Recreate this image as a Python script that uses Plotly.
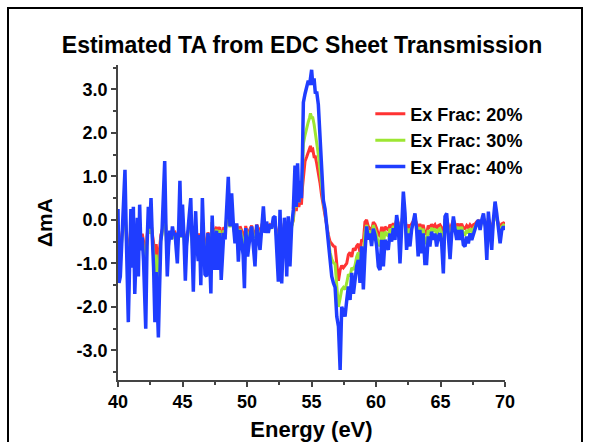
import plotly.graph_objects as go

energy = [40.00,40.08,40.18,40.30,40.42,40.54,40.66,40.80,40.92,41.00,41.10,41.19,41.30,41.40,41.50,41.58,41.68,41.78,41.88,41.98,
          42.08,42.15,42.25,42.35,42.45,42.56,42.66,42.76,42.86,42.96,43.05,43.13,43.22,43.32,43.42,43.52,43.62,43.72,43.82,43.92,
          44.02,44.12,44.22,44.32,44.42,44.52,44.60,44.70,44.80,44.90,45.00,45.10,45.22,45.32,45.42,45.52,45.64,45.74,45.84,45.94,
          46.02,46.12,46.22,46.32,46.42,46.54,46.64,46.74,46.87,46.97,47.07,
          47.20,47.30,47.46,47.56,47.64,47.72,47.82,47.90,48.00,48.10,48.20,48.30,48.42,48.55,48.68,48.81,48.94,49.07,49.20,49.33,
          49.46,49.58,49.70,49.80,49.90,50.05,50.15,50.23,50.36,50.49,50.62,50.75,50.88,51.01,51.14,51.27,51.40,51.52,51.65,51.78,
          51.91,52.04,52.17,52.30,52.43,52.56,52.69,52.80,52.90,53.00,53.08,53.20,53.33,53.46,53.59,
          53.72,53.82,53.92,54.02,54.12,54.22,54.30,54.37,54.50,54.63,54.75,54.85,54.92,55.01,55.10,55.20,55.30,55.40,55.53,55.66,
          55.79,55.92,56.05,56.18,56.31,56.44,56.57,56.70,56.83,56.96,57.09,57.22,57.34,57.47,57.60,57.73,57.86,57.99,58.12,58.25,
          58.37,58.50,58.63,58.76,58.89,59.02,59.14,59.27,59.40,59.53,59.66,59.79,59.92,
          60.05,60.18,60.31,60.44,60.57,60.70,60.82,60.95,61.08,61.21,61.34,61.47,61.60,61.73,61.86,61.99,62.12,62.25,62.37,62.50,
          62.63,62.76,62.89,63.02,63.15,63.27,63.40,63.53,63.66,63.79,63.92,64.05,64.18,64.31,64.44,64.57,64.70,64.83,64.96,65.09,
          65.22,65.35,65.48,65.61,65.74,65.87,66.00,66.13,66.26,66.39,66.51,66.64,66.77,66.90,67.03,67.16,67.29,67.42,67.55,67.68,
          67.81,67.94,68.07,68.20,68.33,68.46,68.59,68.71,68.84,68.97,69.10,69.23,69.36,69.49,69.62,69.75,69.88,70.00]

frac40 = [0.25,-1.45,-1.30,-0.40,0.40,1.15,-0.60,-2.35,-0.80,0.25,-1.10,0.30,-1.70,-0.90,0.05,-1.30,0.35,-0.70,-0.40,-0.95,
          -1.80,-2.50,-0.60,0.30,-0.20,0.50,-0.40,-1.10,-2.35,-1.20,-2.00,-2.70,-1.60,-0.50,-0.20,0.60,1.35,-0.20,-1.30,-0.60,
          -0.25,-0.45,-0.15,-0.35,-0.30,-0.70,-1.00,-0.20,0.90,-0.40,0.35,-0.30,-1.40,-0.60,-0.15,0.10,0.50,-0.40,-1.65,-0.40,
          0.20,-0.60,-0.95,-0.35,-1.50,0.50,-0.20,-1.25,-1.30,-0.30,-0.60,
          -1.69,0.10,-1.15,-0.50,-0.25,-1.15,-0.40,-0.30,-1.38,-0.85,-0.30,-0.45,0.23,0.99,-0.15,0.61,-0.10,-0.54,-0.08,-0.96,
          -0.23,-0.54,-0.80,-1.57,-0.19,-0.84,-0.55,-0.38,-0.15,-0.69,-1.07,-0.11,-0.38,-0.69,-0.20,0.31,-0.30,-0.04,-0.30,-0.10,
          -0.20,0.05,0.08,-0.84,-1.42,0.23,-1.46,-0.60,0.05,-0.50,-1.30,0.08,-1.07,-0.15,0.23,
          1.25,0.30,1.30,0.40,0.90,0.50,1.50,2.70,2.90,3.05,3.20,3.10,3.35,3.45,3.10,3.25,2.90,2.95,2.65,1.90,
          1.00,0.45,0.25,-0.15,-0.69,-1.07,-1.30,-1.45,-1.55,-2.22,-2.45,-3.45,-2.00,-2.10,-2.22,-1.85,-1.53,-1.84,-1.22,-1.70,
          -1.30,-1.07,-0.92,-1.45,-0.61,-1.60,-0.80,-0.15,-0.45,-0.31,-0.60,-0.20,-0.35,
          -0.60,-1.07,-1.15,-0.46,-1.07,-0.46,-0.61,-0.69,-0.31,-0.50,-0.19,-0.46,0.11,-0.15,-1.00,-0.15,0.65,0.15,-0.69,-0.31,
          -0.61,-0.23,-0.08,0.15,-0.23,-0.84,-0.23,-0.77,-0.31,-1.00,-1.00,-0.38,-0.61,-0.27,-0.46,-0.31,-0.61,-0.38,-0.31,-0.54,
          -1.23,0.08,0.15,-0.38,-0.90,-0.31,0.08,-0.23,-0.46,-0.23,-0.46,-0.23,-0.57,-0.61,-0.38,-0.54,-0.31,-0.46,-0.31,-0.23,
          -0.08,0.00,-0.23,0.00,0.15,-0.15,-0.92,0.19,-0.23,-0.69,0.00,0.42,0.15,-0.23,-0.54,-0.23,-0.15,-0.23]

frac20 = [-0.13,-0.64,-0.59,-0.32,-0.08,0.15,-0.38,-0.91,-0.44,-0.13,-0.53,-0.11,-0.71,-0.47,-0.19,-0.59,-0.10,-0.41,-0.32,-0.49,
          -0.74,-0.95,-0.38,-0.11,-0.26,-0.05,-0.32,-0.53,-0.91,-0.56,-0.80,-1.01,-0.68,-0.35,-0.26,-0.02,0.21,-0.26,-0.59,-0.38,
          -0.28,-0.34,-0.25,-0.31,-0.29,-0.41,-0.50,-0.26,0.07,-0.32,-0.10,-0.29,-0.62,-0.38,-0.25,-0.17,-0.05,-0.32,-0.70,-0.32,
          -0.14,-0.38,-0.49,-0.31,-0.65,-0.05,-0.26,-0.58,-0.59,-0.29,-0.38,
          -0.59,-0.05,-0.43,-0.23,-0.16,-0.43,-0.20,-0.17,-0.49,-0.34,-0.17,-0.22,-0.01,0.22,-0.13,0.10,-0.11,-0.24,-0.10,-0.37,
          -0.15,-0.24,-0.32,-0.55,-0.14,-0.33,-0.25,-0.19,-0.13,-0.29,-0.40,-0.11,-0.19,-0.29,-0.14,0.01,-0.17,-0.09,-0.17,-0.11,
          -0.14,-0.07,-0.06,-0.33,-0.51,-0.01,-0.52,-0.26,-0.07,-0.23,-0.47,-0.06,-0.40,-0.13,-0.01,
          0.45,0.20,0.55,0.30,0.45,0.35,0.75,0.95,1.35,1.45,1.55,1.65,1.70,1.60,1.62,1.45,1.45,1.30,1.10,0.85,
          0.55,0.30,0.15,-0.10,-0.35,-0.50,-0.55,-0.60,-0.62,-1.00,-1.40,-1.15,-1.05,-1.10,-1.05,-1.00,-0.80,-0.75,-0.85,-0.65,
          -0.70,-0.60,-0.55,-0.75,-0.45,-0.50,-0.05,0.00,-0.15,-0.20,-0.25,-0.05,-0.10,
          -0.20,-0.34,-0.37,-0.16,-0.34,-0.16,-0.20,-0.23,-0.11,-0.17,-0.08,-0.16,0.01,-0.07,-0.32,-0.07,0.18,0.03,-0.23,-0.11,
          -0.20,-0.09,-0.04,0.03,-0.09,-0.27,-0.09,-0.25,-0.11,-0.32,-0.32,-0.13,-0.20,-0.10,-0.16,-0.11,-0.20,-0.13,-0.11,-0.18,
          -0.39,0.00,0.03,-0.13,-0.29,-0.11,0.00,-0.09,-0.16,-0.09,-0.16,-0.09,-0.19,-0.20,-0.13,-0.18,-0.11,-0.16,-0.11,-0.09,
          -0.04,-0.02,-0.09,-0.02,0.03,-0.07,-0.30,0.04,-0.09,-0.23,-0.02,0.11,0.03,-0.09,-0.18,-0.09,-0.07,-0.09]

frac30 = [-0.10,-0.92,-0.84,-0.41,-0.03,0.33,-0.51,-1.35,-0.60,-0.10,-0.75,-0.08,-1.04,-0.65,-0.20,-0.84,-0.05,-0.56,-0.41,-0.68,
          -1.08,-1.42,-0.51,-0.08,-0.32,0.02,-0.41,-0.75,-1.35,-0.80,-1.18,-1.52,-0.99,-0.46,-0.32,0.07,0.43,-0.32,-0.84,-0.51,
          -0.34,-0.44,-0.29,-0.39,-0.36,-0.56,-0.70,-0.32,0.21,-0.41,-0.05,-0.36,-0.89,-0.51,-0.29,-0.17,0.02,-0.41,-1.01,-0.41,
          -0.12,-0.51,-0.68,-0.39,-0.94,0.02,-0.32,-0.82,-0.84,-0.36,-0.51,
          -0.91,-0.05,-0.65,-0.34,-0.22,-0.65,-0.29,-0.24,-0.76,-0.51,-0.24,-0.32,0.01,0.38,-0.17,0.19,-0.15,-0.36,-0.14,-0.56,
          -0.21,-0.36,-0.48,-0.85,-0.19,-0.50,-0.36,-0.28,-0.17,-0.43,-0.61,-0.15,-0.28,-0.43,-0.20,0.05,-0.24,-0.12,-0.24,-0.15,
          -0.20,-0.08,-0.06,-0.50,-0.78,0.01,-0.80,-0.39,-0.08,-0.34,-0.72,-0.06,-0.61,-0.17,0.01,
          0.75,0.28,0.85,0.40,0.65,0.55,1.10,1.75,1.95,2.15,2.25,2.35,2.45,2.35,2.35,2.20,2.00,1.85,1.50,1.15,
          0.70,0.40,0.20,-0.12,-0.50,-0.75,-0.90,-0.98,-1.02,-1.60,-2.00,-1.80,-1.60,-1.55,-1.60,-1.45,-1.25,-1.30,-1.10,-1.15,
          -1.05,-0.85,-0.75,-1.00,-0.62,-0.90,-0.30,-0.12,-0.30,-0.28,-0.40,-0.12,-0.22,
          -0.34,-0.56,-0.60,-0.27,-0.56,-0.27,-0.34,-0.38,-0.20,-0.29,-0.14,-0.27,0.00,-0.12,-0.53,-0.12,0.26,0.02,-0.38,-0.20,
          -0.34,-0.16,-0.09,0.02,-0.16,-0.45,-0.16,-0.42,-0.20,-0.53,-0.53,-0.23,-0.34,-0.18,-0.27,-0.20,-0.34,-0.23,-0.20,-0.31,
          -0.64,-0.01,0.02,-0.23,-0.48,-0.20,-0.01,-0.16,-0.27,-0.16,-0.27,-0.16,-0.32,-0.34,-0.23,-0.31,-0.20,-0.27,-0.20,-0.16,
          -0.09,-0.05,-0.16,-0.05,0.02,-0.12,-0.49,0.04,-0.16,-0.38,-0.05,0.15,0.02,-0.16,-0.31,-0.16,-0.12,-0.16]

series_names = ["Ex Frac: 20%", "Ex Frac: 30%", "Ex Frac: 40%"]
series_colors = ["#ff3333", "#9de632", "#1f3dff"]
series_widths = [3, 3, 3.5]

y_tickvals = [-3, -2, -1, 0, 1, 2, 3]
y_ticktext = ["-3.0", "-2.0", "-1.0", "0.0", "1.0", "2.0", "3.0"]
x_tickvals = [40, 45, 50, 55, 60, 65, 70]

FONT = "Liberation Sans, Arial, sans-serif"

fig = go.Figure()
for name, ys, col, w in zip(series_names, [frac20, frac30, frac40], series_colors, series_widths):
    fig.add_trace(go.Scatter(x=energy, y=ys, mode="lines", name=name, legendgroup=name,
                             line=dict(color=col, width=w)))

axis_common = dict(showline=True, linecolor="#444444", linewidth=1.5, ticks="outside",
                   tickcolor="#444444", tickwidth=1.5, ticklen=5, showgrid=False, zeroline=False,
                   automargin=False,
                   tickfont=dict(family=FONT, size=18, color="black", weight="bold"))

fig.update_xaxes(range=[40, 70], tickvals=x_tickvals,
                 minor=dict(dtick=2.5, tick0=40, ticks="outside", ticklen=3, tickcolor="#444444", tickwidth=1.5),
                 title=dict(text="<b>Energy (eV)</b>", font=dict(family=FONT, size=22, color="black"), standoff=10),
                 **axis_common)
fig.update_yaxes(range=[-3.68, 3.56], tickvals=y_tickvals, ticktext=y_ticktext,
                 minor=dict(dtick=0.5, tick0=0, ticks="outside", ticklen=3, tickcolor="#444444", tickwidth=1.5),
                 title=dict(text="<b>ΔmA</b>", font=dict(family=FONT, size=21, color="black"), standoff=18),
                 **axis_common)

fig.update_layout(
    width=590, height=442,
    margin=dict(l=118, r=85, t=65, b=62, autoexpand=False),
    paper_bgcolor="white", plot_bgcolor="white",
    title=dict(text="<b>Estimated TA from EDC Sheet Transmission</b>", x=0.512, xanchor="center",
               y=1 - 45 / 442, yanchor="middle", font=dict(family=FONT, size=23, color="black")),
    legend=dict(x=0.652, y=0.903, xanchor="left", yanchor="top", bgcolor="rgba(0,0,0,0)",
                itemwidth=30, tracegroupgap=0,
                font=dict(family=FONT, size=18, color="black", weight="bold")),
    showlegend=True,
)

# outer frame
fig.add_shape(type="rect", xref="paper", yref="paper",
              x0=(8 - 118) / 387, x1=(582 - 118) / 387, y0=(380 - 460) / 315, y1=(380 - 8) / 315,
              line=dict(color="black", width=2), fillcolor="rgba(0,0,0,0)", layer="below")

fig.write_html("out.html")
